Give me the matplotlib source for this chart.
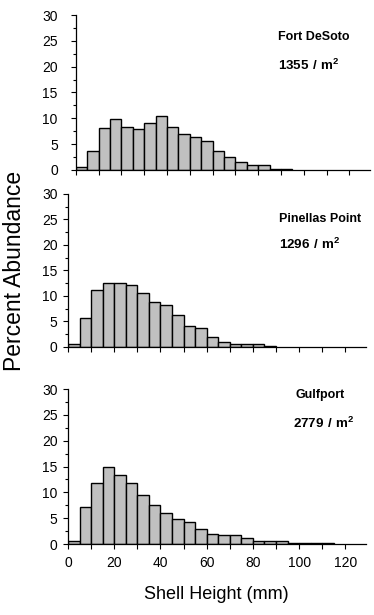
import numpy as np
import matplotlib
matplotlib.use("Agg")
import matplotlib.pyplot as plt
from matplotlib.ticker import MultipleLocator

plt.rcParams['font.family'] = ['Liberation Sans', 'DejaVu Sans']
plt.rcParams['mathtext.fontset'] = 'custom'
plt.rcParams['mathtext.rm'] = 'Liberation Sans'
plt.rcParams['mathtext.bf'] = 'Liberation Sans:bold'

# shell height bins, 5 mm wide (left edges)
bin_width = 5

# percent abundance per bin
fort_desoto = [0.5, 3.7, 8.2, 9.8, 8.4, 7.9, 9.0, 10.5, 8.4, 7.0, 6.3, 5.6,
               3.7, 2.6, 1.6, 1.0, 1.0, 0.25, 0.25]
pinellas = [0.5, 5.7, 11.2, 12.6, 12.6, 12.2, 10.5, 8.9, 8.2, 6.2, 4.2, 3.8,
            1.9, 0.9, 0.65, 0.5, 0.5, 0.25]
gulfport = [0.6, 7.2, 11.8, 15.0, 13.4, 11.8, 9.5, 7.6, 6.0, 4.8, 4.2, 3.0,
            1.9, 1.7, 1.7, 1.2, 0.5, 0.5, 0.5, 0.2, 0.2, 0.2, 0.2]

sites = ['Fort DeSoto', 'Pinellas Point', 'Gulfport']
densities = ['1355', '1296', '2779']
series = [fort_desoto, pinellas, gulfport]

y_ticks = [0, 5, 10, 15, 20, 25, 30]
x_labels = ['0', '20', '40', '60', '80', '100', '120']

fig = plt.figure(figsize=(3.74, 6.15), dpi=100)

# axes rectangles in figure fraction
rects = [[0.203, 0.7236, 0.786, 0.252],
         [0.182, 0.4358, 0.797, 0.2488],
         [0.182, 0.1154, 0.797, 0.252]]
ylab_pad = [9.5, 4.0, 4.0]
name_pos = [(0.743, 0.940), (0.746, 0.644), (0.789, 0.358)]
dens_pos = [(0.743, 0.894), (0.746, 0.602), (0.783, 0.312)]

for i in range(3):
    ax = fig.add_axes(rects[i])
    vals = series[i]
    lefts = np.arange(len(vals)) * bin_width
    ax.bar(lefts, vals, width=bin_width, align='edge', color='#c0c0c0',
           edgecolor='black', linewidth=1.0)
    ax.set_xlim(0, 129)
    ax.set_ylim(0, 30)
    ax.spines['top'].set_visible(False)
    ax.spines['right'].set_visible(False)
    ax.spines['left'].set_linewidth(0.9)
    ax.spines['bottom'].set_linewidth(0.9)
    ax.set_yticks(y_ticks)
    ax.yaxis.set_minor_locator(MultipleLocator(2.5))
    ax.set_xticks(np.arange(0, 130, 10))
    if i == 2:
        ax.set_xticklabels([x_labels[k // 2] if k % 2 == 0 else ''
                            for k in range(13)])
    else:
        ax.set_xticklabels([])
    ax.tick_params(axis='y', which='major', length=3.5, width=0.8,
                   labelsize=10, pad=ylab_pad[i])
    ax.tick_params(axis='y', which='minor', length=2, width=0.8)
    ax.tick_params(axis='x', which='major', length=3.5, width=0.8,
                   labelsize=10, pad=5)
    fig.text(name_pos[i][0], name_pos[i][1], sites[i], fontsize=9,
             fontweight='bold', ha='left', va='center')
    fig.text(dens_pos[i][0], dens_pos[i][1],
             r'$\mathbf{' + densities[i] + r'\ /\ m^{2}}$', fontsize=9.6,
             ha='left', va='center')

fig.text(0.04, 0.559, 'Percent Abundance', rotation=90, ha='center',
         va='center', fontsize=16.5)
fig.text(0.578, 0.033, 'Shell Height (mm)', ha='center', va='center',
         fontsize=13)

fig.savefig('out.png', dpi=100)
